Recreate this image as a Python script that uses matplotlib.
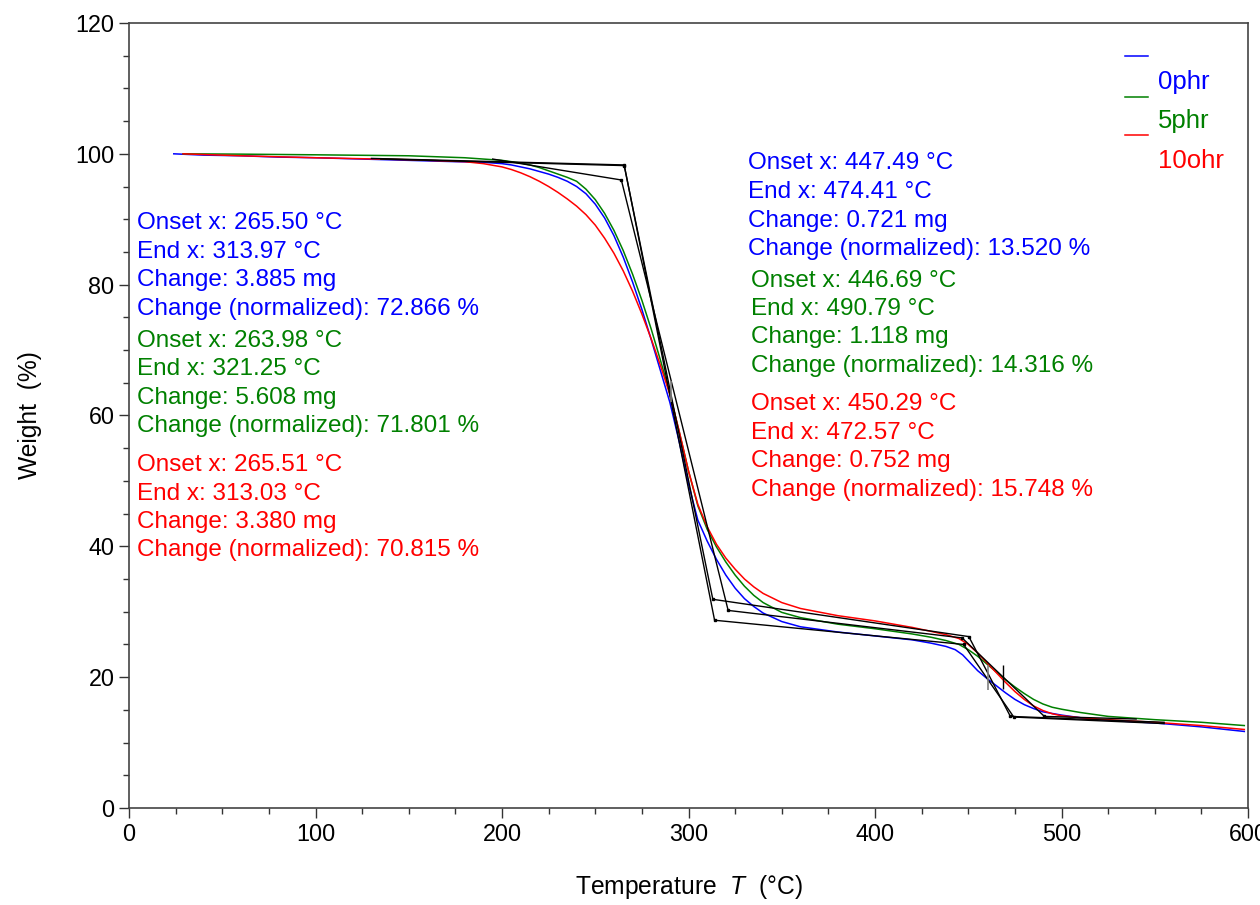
import matplotlib
matplotlib.use("Agg")
import matplotlib.pyplot as plt
from matplotlib.ticker import MultipleLocator

plt.rcParams["font.family"] = ["Liberation Sans", "DejaVu Sans"]
plt.rcParams["mathtext.fontset"] = "custom"
plt.rcParams["mathtext.rm"] = "Liberation Sans"
plt.rcParams["mathtext.it"] = "Liberation Sans:italic"

# =====================================================
# DATA
# =====================================================

# 0phr (blue)
t_0 = [24, 40, 60, 80, 100, 125, 150, 175, 190, 200, 205, 210, 215, 220, 225, 230,
       235, 240, 245, 250, 255, 260, 265, 270, 275, 280, 285, 290, 295, 300, 305,
       310, 315, 320, 325, 330, 335, 340, 350, 360, 380, 400, 420, 430, 438, 443,
       447, 451, 455, 460, 465, 470, 475, 480, 485, 490, 500, 510, 525, 550, 575, 598]
w_0 = [100.0, 99.8, 99.7, 99.5, 99.4, 99.2, 99.0, 98.8, 98.7, 98.5, 98.3, 98.0,
       97.7, 97.3, 96.9, 96.4, 95.8, 95.0, 93.9, 92.3, 90.2, 87.5, 84.2, 80.4, 76.2,
       71.6, 66.8, 62.0, 56.0, 49.5, 44.0, 40.8, 38.0, 35.6, 33.6, 32.0, 30.8, 29.8,
       28.5, 27.7, 26.9, 26.3, 25.7, 25.2, 24.7, 24.2, 23.4, 22.2, 21.0, 19.8, 18.7,
       17.6, 16.6, 15.8, 15.2, 14.7, 14.2, 13.8, 13.4, 13.0, 12.4, 11.7]

# 5phr (green)
t_5 = [29, 60, 100, 150, 180, 200, 205, 210, 215, 220, 225, 230, 235, 240, 245,
       250, 255, 260, 265, 270, 275, 280, 285, 290, 295, 300, 305, 310, 315, 320,
       325, 330, 335, 340, 350, 360, 380, 400, 420, 430, 438, 445, 450, 455, 460,
       465, 470, 475, 480, 485, 490, 495, 500, 510, 525, 550, 575, 598]
w_5 = [100.0, 99.95, 99.85, 99.7, 99.4, 99.0, 98.8, 98.6, 98.3, 97.9, 97.4, 96.9,
       96.4, 95.8, 94.6, 93.0, 90.9, 88.3, 85.2, 81.6, 77.6, 73.2, 68.4, 63.3, 57.5,
       51.5, 46.2, 42.6, 39.9, 37.6, 35.6, 33.9, 32.5, 31.4, 29.9, 29.1, 28.1, 27.4,
       26.6, 26.1, 25.6, 25.0, 24.2, 23.2, 22.0, 20.8, 19.6, 18.5, 17.5, 16.6, 15.9,
       15.4, 15.1, 14.6, 14.0, 13.5, 13.1, 12.6]

# 10phr (red)
t_10 = [29, 60, 100, 150, 180, 190, 200, 205, 210, 215, 220, 225, 230, 235, 240,
        245, 250, 255, 260, 265, 270, 275, 280, 285, 290, 295, 300, 305, 310, 315,
        320, 325, 330, 335, 340, 350, 360, 380, 400, 420, 430, 438, 445, 450, 455,
        460, 465, 470, 475, 480, 485, 490, 495, 500, 510, 525, 550, 575, 598]
w_10 = [100.0, 99.7, 99.4, 99.1, 98.8, 98.5, 98.0, 97.6, 97.1, 96.5, 95.8, 95.0,
        94.1, 93.1, 92.0, 90.7, 89.1, 87.1, 84.8, 82.1, 79.0, 75.5, 71.7, 67.6, 63.2,
        57.6, 51.5, 46.4, 43.0, 40.3, 38.2, 36.5, 35.0, 33.8, 32.8, 31.4, 30.5, 29.4,
        28.6, 27.6, 27.0, 26.5, 25.9, 25.0, 23.7, 22.2, 20.7, 19.2, 17.8, 16.6, 15.6,
        14.9, 14.4, 14.1, 13.8, 13.5, 13.1, 12.6, 12.0]

# onset / endset construction lines (baseline -> onset -> end -> onset -> end -> baseline)
step_t_0 = [130, 265.50, 313.97, 447.49, 474.41, 555]
step_w_0 = [99.3, 98.3, 28.7, 25.0, 13.9, 12.9]
step_t_5 = [195, 263.98, 321.25, 446.69, 490.79, 540]
step_w_5 = [99.2, 96.0, 30.2, 26.0, 14.0, 13.6]
step_t_10 = [135, 265.51, 313.03, 450.29, 472.57, 555]
step_w_10 = [99.2, 98.2, 31.9, 26.2, 14.0, 13.1]

# midpoint markers (short vertical bars)
mid_t = [290.5, 460.5, 468.5]
mid_lo = [62.0, 18.0, 18.2]
mid_hi = [65.2, 21.8, 21.8]

labels = ["0phr", "5phr", "10ohr"]
colors = ["#0000FF", "#008000", "#FF0000"]

ann_left = [
    ["Onset x: 265.50 °C", "End x: 313.97 °C", "Change: 3.885 mg",
     "Change (normalized): 72.866 %"],
    ["Onset x: 263.98 °C", "End x: 321.25 °C", "Change: 5.608 mg",
     "Change (normalized): 71.801 %"],
    ["Onset x: 265.51 °C", "End x: 313.03 °C", "Change: 3.380 mg",
     "Change (normalized): 70.815 %"],
]
ann_right = [
    ["Onset x: 447.49 °C", "End x: 474.41 °C", "Change: 0.721 mg",
     "Change (normalized): 13.520 %"],
    ["Onset x: 446.69 °C", "End x: 490.79 °C", "Change: 1.118 mg",
     "Change (normalized): 14.316 %"],
    ["Onset x: 450.29 °C", "End x: 472.57 °C", "Change: 0.752 mg",
     "Change (normalized): 15.748 %"],
]

# =====================================================
# PLOT
# =====================================================

fig = plt.figure(figsize=(12.6, 9.05), dpi=100)
ax = fig.add_axes([0.1024, 0.1072, 0.8881, 0.8674])

for t, w, c in [(t_0, w_0, colors[0]), (t_5, w_5, colors[1]), (t_10, w_10, colors[2])]:
    ax.plot(t, w, color=c, lw=1.1, zorder=3)

for t, w in [(step_t_0, step_w_0), (step_t_5, step_w_5), (step_t_10, step_w_10)]:
    ax.plot(t, w, color="black", lw=1.0, zorder=4)
    ax.plot(t[1:-1], w[1:-1], "s", color="black", ms=2, zorder=4)

ax.vlines(mid_t[0], mid_lo[0], mid_hi[0], color="gray", lw=1.2, zorder=5)
ax.vlines(mid_t[1], mid_lo[1], mid_hi[1], color="gray", lw=1.2, zorder=5)
ax.vlines(mid_t[2], mid_lo[2], mid_hi[2], color="black", lw=1.0, zorder=5)

# annotation blocks
fs_ann = 17.5
left_y = [[89.42, 84.99, 80.71, 76.28],
          [71.38, 67.10, 62.67, 58.39],
          [52.43, 48.00, 43.72, 39.44]]
right_y = [[98.60, 94.16, 89.73, 85.45],
           [80.56, 76.28, 72.00, 67.56],
           [61.76, 57.32, 53.04, 48.61]]
right_x = [331.9, 333.5, 333.5]
for i in range(3):
    for line, y in zip(ann_left[i], left_y[i]):
        ax.text(4.3, y, line, color=colors[i], fontsize=fs_ann, va="center", ha="left")
    for line, y in zip(ann_right[i], right_y[i]):
        ax.text(right_x[i], y, line, color=colors[i], fontsize=fs_ann, va="center", ha="left")

# legend (drawn by hand, offset like the original)
leg_line_y = [114.9, 108.7, 102.9]
leg_text_y = [111.0, 105.0, 98.9]
for i in range(3):
    ax.plot([534, 546.5], [leg_line_y[i], leg_line_y[i]], color=colors[i], lw=1.1)
    ax.text(551.7, leg_text_y[i], labels[i], color=colors[i], fontsize=18.5,
            va="center", ha="left")

ax.set_xlim(0, 600)
ax.set_ylim(0, 120)
ax.xaxis.set_major_locator(MultipleLocator(100))
ax.xaxis.set_minor_locator(MultipleLocator(25))
ax.yaxis.set_major_locator(MultipleLocator(20))
ax.yaxis.set_minor_locator(MultipleLocator(5))
ax.tick_params(which="both", direction="out", width=1.0, labelsize=16.8,
               top=False, right=False, color="#333333")
ax.tick_params(which="major", length=7)
ax.tick_params(which="minor", length=4)
for s in ax.spines.values():
    s.set_color("#444444")
    s.set_linewidth(1.2)

ax.set_xlabel("Temperature  $T$  (°C)", fontsize=17.7, labelpad=20)
ax.set_ylabel("Weight  (%)", fontsize=17.7, labelpad=24)

fig.savefig("out.png", dpi=100)
